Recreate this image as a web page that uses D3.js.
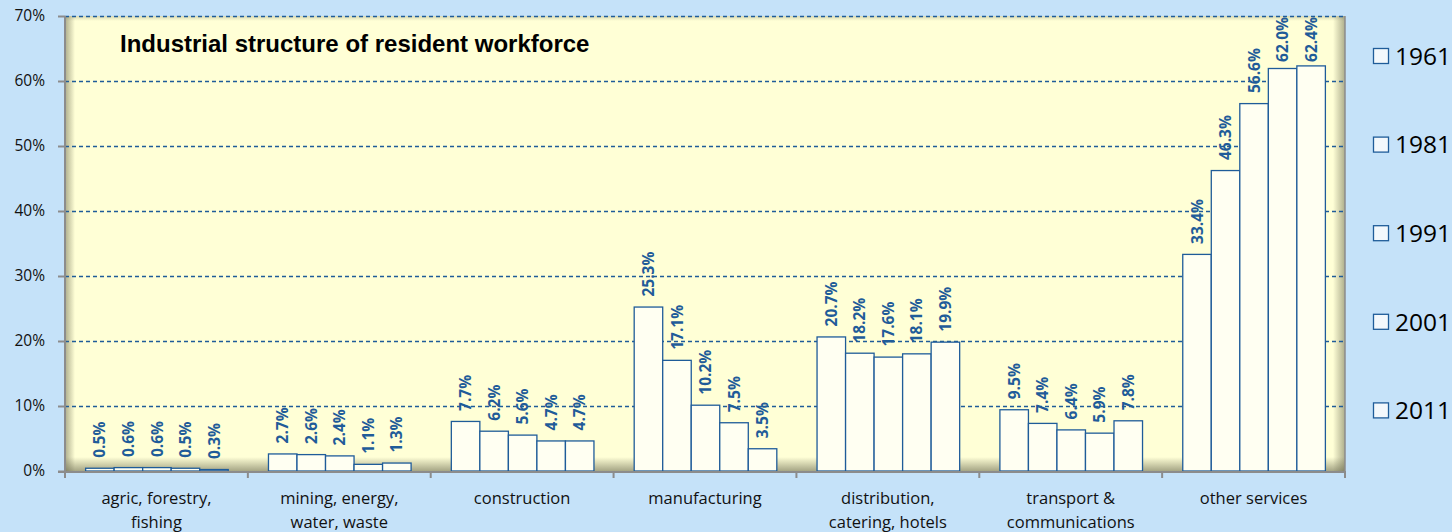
<!DOCTYPE html>
<html>
<head>
<meta charset="utf-8">
<title>Industrial structure of resident workforce</title>
<script src="https://d3js.org/d3.v7.min.js"></script>
<style>
  body { margin: 0; background: #C5E2F9; }
  text { font-family: "Open Sans", Lato, sans-serif; }
</style>
</head>
<body>
<div id="chart"></div>
<script>
// data
var categories = [
  ["agric, forestry,", "fishing"],
  ["mining, energy,", "water, waste"],
  ["construction"],
  ["manufacturing"],
  ["distribution,", "catering, hotels"],
  ["transport &", "communications"],
  ["other services"]
];
var years = ["1961", "1981", "1991", "2001", "2011"];
var v1961 = [0.5, 2.7, 7.7, 25.3, 20.7, 9.5, 33.4];
var v1981 = [0.6, 2.6, 6.2, 17.1, 18.2, 7.4, 46.3];
var v1991 = [0.6, 2.4, 5.6, 10.2, 17.6, 6.4, 56.6];
var v2001 = [0.5, 1.1, 4.7, 7.5, 18.1, 5.9, 62.0];
var v2011 = [0.3, 1.3, 4.7, 3.5, 19.9, 7.8, 62.4];
var yTicks = [0, 10, 20, 30, 40, 50, 60, 70];

var series = [v1961, v1981, v1991, v2001, v2011];

var W = 1452, H = 532;
var margin = {left: 65, right: 107, top: 16, bottom: 61};
var x0 = margin.left, x1 = W - margin.right;
var y0 = H - margin.bottom, y1 = margin.top;

var blue = "#1F5C99";

var svg = d3.select("#chart").append("svg")
  .attr("width", W).attr("height", H);

svg.append("rect").attr("width", W).attr("height", H).attr("fill", "#C5E2F9");

var x = d3.scaleBand()
  .domain(d3.range(categories.length))
  .range([x0, x1])
  .paddingInner(0.22).paddingOuter(0.11);

var xs = d3.scaleBand().domain(d3.range(years.length)).range([0, x.bandwidth()]);

var y = d3.scaleLinear().domain([0, 70]).range([y0, y1]);

// plot background with inner shadow
var defs = svg.append("defs");
function grad(id, x1_, y1_, x2_, y2_, op) {
  var g = defs.append("linearGradient").attr("id", id)
    .attr("x1", x1_).attr("y1", y1_).attr("x2", x2_).attr("y2", y2_);
  g.append("stop").attr("offset", "0%").attr("stop-color", "#6b6b50").attr("stop-opacity", op);
  g.append("stop").attr("offset", "100%").attr("stop-color", "#6b6b50").attr("stop-opacity", 0);
}
grad("shL", "0", "0", "1", "0", 0.55);
grad("shR", "1", "0", "0", "0", 0.55);
grad("shB", "0", "1", "0", "0", 0.6);
grad("shT", "0", "0", "0", "1", 0.25);

svg.append("rect").attr("x", x0).attr("y", y1).attr("width", x1 - x0).attr("height", y0 - y1)
  .attr("fill", "#FFFFD6");
svg.append("rect").attr("x", x0).attr("y", y1).attr("width", 10).attr("height", y0 - y1).attr("fill", "url(#shL)");
svg.append("rect").attr("x", x1 - 12).attr("y", y1).attr("width", 12).attr("height", y0 - y1).attr("fill", "url(#shR)");
svg.append("rect").attr("x", x0).attr("y", y0 - 14).attr("width", x1 - x0).attr("height", 14).attr("fill", "url(#shB)");
svg.append("rect").attr("x", x0).attr("y", y1).attr("width", x1 - x0).attr("height", 5).attr("fill", "url(#shT)");

// gridlines
svg.append("g").selectAll("line")
  .data(yTicks.filter(function(d) { return d > 0; }))
  .enter().append("line")
  .attr("x1", x0).attr("x2", x1)
  .attr("y1", function(d) { return y(d) + 0.5; })
  .attr("y2", function(d) { return y(d) + 0.5; })
  .attr("stroke", blue).attr("stroke-width", 1.3)
  .attr("stroke-dasharray", "4,3");

// bars
var groups = svg.append("g").selectAll("g")
  .data(categories.map(function(c, i) { return i; }))
  .enter().append("g")
  .attr("transform", function(i) { return "translate(" + x(i) + ",0)"; });

var cells = groups.selectAll("g")
  .data(function(i) { return series.map(function(s, j) { return {cat: i, yr: j, v: s[i]}; }); })
  .enter().append("g");

cells.append("rect")
  .attr("x", function(d) { return xs(d.yr) + 0.5; })
  .attr("y", function(d) { return y(d.v) + 0.5; })
  .attr("width", xs.bandwidth())
  .attr("height", function(d) { return y0 - y(d.v) - 0.5; })
  .attr("fill", "#FFFFF2")
  .attr("stroke", blue).attr("stroke-width", 1.3);

// value labels, kept inside the plot area at the top
cells.append("text")
  .attr("dy", "0.36em")
  .attr("fill", blue)
  .attr("font-size", "15.5px")
  .attr("font-weight", "bold")
  .text(function(d) { return d.v.toFixed(1) + "%"; })
  .attr("transform", function(d) {
    var len = this.getComputedTextLength();
    var ty = y(d.v) - 10;
    if (ty - len < y1 + 1) ty = y1 + 1 + len;
    return "translate(" + (xs(d.yr) + xs.bandwidth() / 2 + 0.5) + "," + ty + ") rotate(-90)";
  });

// axes
var axis = svg.append("g");
axis.append("line").attr("x1", x0).attr("x2", x0).attr("y1", y1).attr("y2", y0 + 6)
  .attr("stroke", "#8c8c8c").attr("stroke-width", 2);
axis.append("line").attr("x1", x0 - 7).attr("x2", x1 + 1).attr("y1", y0 + 1).attr("y2", y0 + 1)
  .attr("stroke", "#8c8c8c").attr("stroke-width", 2);
axis.append("line").attr("x1", x1).attr("x2", x1).attr("y1", y1).attr("y2", y0 + 6)
  .attr("stroke", "#8c8c8c").attr("stroke-width", 1.5);

axis.selectAll(".yt").data(yTicks).enter().append("line")
  .attr("x1", x0 - 7).attr("x2", x0)
  .attr("y1", function(d) { return y(d) + 0.5; }).attr("y2", function(d) { return y(d) + 0.5; })
  .attr("stroke", "#8c8c8c").attr("stroke-width", 2);

axis.selectAll(".yl").data(yTicks).enter().append("text")
  .attr("x", x0 - 20).attr("y", function(d) { return y(d); })
  .attr("dy", "0.35em").attr("text-anchor", "end")
  .attr("font-size", "15.5px").attr("fill", "#111")
  .text(function(d) { return d + "%"; });

axis.selectAll(".xt").data(d3.range(categories.length + 1)).enter().append("line")
  .attr("x1", function(i) { return x0 + i * (x1 - x0) / categories.length; })
  .attr("x2", function(i) { return x0 + i * (x1 - x0) / categories.length; })
  .attr("y1", y0).attr("y2", y0 + 7)
  .attr("stroke", "#8c8c8c").attr("stroke-width", 2);

axis.selectAll(".xl").data(categories).enter().append("text")
  .attr("x", function(c, i) { return x(i) + x.bandwidth() / 2; })
  .attr("y", y0 + 33)
  .attr("text-anchor", "middle")
  .attr("font-size", "16.5px").attr("fill", "#111")
  .each(function(c) {
    var t = d3.select(this);
    c.forEach(function(line, k) {
      t.append("tspan").attr("x", t.attr("x")).attr("dy", k === 0 ? 0 : 24).text(line);
    });
  });

// title
svg.append("text")
  .attr("x", 120).attr("y", 52)
  .attr("font-size", "24px").attr("font-weight", "bold").attr("fill", "#000")
  .style("font-family", "'Liberation Sans', Arial, sans-serif")
  .text("Industrial structure of resident workforce");

// legend
var leg = svg.append("g").selectAll("g").data(years).enter().append("g")
  .attr("transform", function(d, i) { return "translate(1373," + (56 + i * 88.6) + ")"; });
leg.append("rect").attr("x", 0.5).attr("y", -7.5).attr("width", 15).attr("height", 15)
  .attr("fill", "#F3F8FC").attr("stroke", blue).attr("stroke-width", 1.3);
leg.append("text").attr("x", 22).attr("dy", "0.36em")
  .attr("font-size", "24.5px").attr("fill", "#000")
  .text(function(d) { return d; });
</script>
</body>
</html>
